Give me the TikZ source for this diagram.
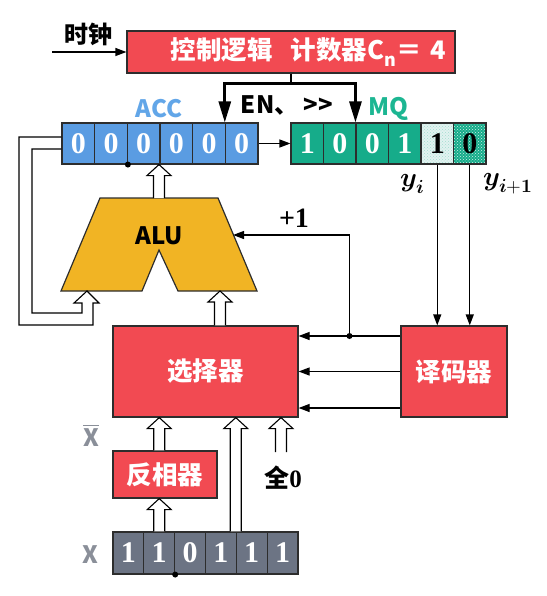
\documentclass[tikz,border=0pt]{standalone}
\usepackage{fontspec}
\usepackage{unicode-math}
\setmathfont{Latin Modern Math}
\newfontfamily\cjk{Noto Sans CJK SC}
\newfontfamily\numfont{Liberation Serif}
\usetikzlibrary{arrows.meta,calc,patterns}
\definecolor{boxred}{RGB}{242,74,82}
\definecolor{accblue}{RGB}{90,156,226}
\definecolor{acclab}{RGB}{98,166,232}
\definecolor{mqteal}{RGB}{22,172,138}
\definecolor{mqpale}{RGB}{226,242,240}
\definecolor{mqlab}{RGB}{28,182,146}
\definecolor{aluorange}{RGB}{241,180,36}
\definecolor{xgrey}{RGB}{108,116,132}
\definecolor{labgrey}{RGB}{138,143,153}
\definecolor{framec}{RGB}{45,45,45}
% hollow bus arrow pointing up: x taken from #1, tip at y of #2
\newcommand{\fatup}[2]{%
  \draw[fat] let \p1=(#1), \p2=(#2) in
    (\x1-5.5pt,\y1) -- (\x1-5.5pt,\y2-11pt) -- (\x1-12pt,\y2-11pt) -- (\x1,\y2)
    -- (\x1+12pt,\y2-11pt) -- (\x1+5.5pt,\y2-11pt) -- (\x1+5.5pt,\y1);}

\begin{document}
\begin{tikzpicture}[x=1pt,y=-1pt,line join=miter,
    sig/.style={draw=black,line width=1.2pt,-{Triangle[length=11pt,width=8pt]}},
    bus/.style={draw=black,line width=2.8pt,-{Triangle[length=21pt,width=12pt]}},
    fat/.style={draw=black,line width=1.1pt,fill=white},
    thin/.style={draw=black,line width=1.1pt},
    redbox/.style={draw=framec,line width=1.2pt,fill=boxred,text=white,inner sep=0pt,
      font=\cjk\bfseries\fontsize{25.5pt}{26pt}\selectfont},
    regcell/.style={draw=framec,line width=1.1pt,minimum height=41pt,inner sep=0pt,text=white,
      font=\numfont\bfseries\fontsize{30pt}{30pt}\selectfont},
    lab/.style={inner sep=0pt,font=\cjk\bfseries\fontsize{24pt}{24pt}\selectfont},
    mathlab/.style={inner sep=0pt,font=\fontsize{27pt}{27pt}\selectfont}]
  \useasboundingbox (0,0) rectangle (546,596);

  % control logic
  \node[redbox,minimum height=42pt,text width=310pt,align=right,inner xsep=9pt] (ctrl) at (291,52)
    {控制逻辑\hspace{18pt}计数器C\textsubscript{n}＝ 4};
  \node[lab] (clock) at (88,34) {时钟};
  \coordinate (clk) at (52,52);
  \draw[sig] (clk) -- (clk -| ctrl.west);

  % registers
  \foreach \i in {1,...,6}
    \node[regcell,fill=accblue,minimum width=32.67pt] (acc\i) at ({62+(\i-0.5)*32.67},143.5) {0};
  \foreach \d [count=\i] in {1,0,0,1}
    \node[regcell,fill=mqteal,minimum width=32.5pt] (mq\i) at ({291+(\i-0.5)*32.5},143.5) {\d};
  \node[regcell,minimum width=32.5pt,text=black,preaction={fill=mqpale},
    pattern=crosshatch dots,pattern color=mqteal!40] (mq5) at ({291+4.5*32.5},143.5) {1};
  \node[regcell,minimum width=32.5pt,text=black,preaction={fill=mqteal},
    pattern=crosshatch dots,pattern color=white!80!mqteal] (mq6) at ({291+5.5*32.5},143.5) {0};
  \foreach \d [count=\i] in {1,1,0,1,1,1}
    \node[regcell,fill=xgrey,minimum width=30.83pt,minimum height=42pt] (x\i) at ({113+(\i-0.5)*30.83},553) {\d};

  \node[lab,text=acclab] (acclabel) at (159,109) {ACC};
  \node[lab,text=mqlab] (mqlabel) at (388,109) {MQ};
  \node[lab] (enlabel) at (287,105) {EN、 >>};
  \node[lab,text=labgrey] (xlabel) at (90,555) {X};
  \node[lab,text=labgrey] (xbarlabel) at (91,435) {$\overline{\hbox{X}}$};

  \draw[bus] (ctrl.south) -- ++(0,10) -| (acc6.north west);
  \draw[bus] (ctrl.south) -- ++(0,10) -| (mq3.north west);
  \draw[sig] (acc6.east) -- (mq1.west);
  \fill (acc2.south east) circle (3pt);
  \fill (x2.south east) circle (3pt);

  % ALU
  \draw[framec,line width=1.2pt,fill=aluorange] (100,198) -- (218,198) -- (257,291) -- (178,291)
    -- (159,250) -- (142,291) -- (61,291) -- cycle;
  \node[lab] (alu) at (159,236) {ALU};
  \coordinate (alutop) at (159,198);
  \coordinate (aluinl) at (87,291);
  \coordinate (aluinr) at (220,291);
  \coordinate (aluplus) at (233,235);

  % selector, decoder, inverter
  \node[redbox,minimum width=185pt,minimum height=91pt] (sel) at (205.5,371.5) {选择器};
  \node[redbox,minimum width=106pt,minimum height=91pt] (dec) at (454,371.5) {译码器};
  \node[redbox,minimum width=104pt,minimum height=47pt] (inv) at (165,474.5) {反相器};

  \draw[sig] (mq5.south) -- (mq5.south |- dec.north);
  \draw[sig] (mq6.south) -- (mq6.south |- dec.north);
  \node[mathlab] (yi) at (413,184) {$\symbfit{y}_{\symbfit{i}}$};
  \node[mathlab] (yii) at (508,184) {$\symbfit{y}_{\symbfit{i}\symbf{+1}}$};

  \draw[sig] ([yshift=35.5pt]dec.west) -- ([yshift=35.5pt]sel.east);
  \draw[sig] (dec.west) -- (sel.east);
  \draw[sig] ([yshift=-36.5pt]dec.west) -- ([yshift=-36.5pt]sel.east);
  \coordinate (tap) at ($([yshift=35.5pt]sel.east)!0.5!([yshift=35.5pt]dec.west)$);
  \fill (tap) circle (3pt);
  \draw[sig] (tap) |- (aluplus);
  \node[inner sep=0pt,font=\numfont\bfseries\fontsize{28pt}{28pt}\selectfont] (plusone) at (294,218) {+1};

  % feedback ACC -> ALU left input
  \draw[thin] ([yshift=6.5pt]acc1.west) -| (19,325) -| (93,303) -- (99,303) -- (aluinl)
    -- (74,303) -- (82,303) |- (32,313) |- ([yshift=-5.5pt]acc1.west);

  % bus arrows
  \fatup{alutop}{acc4.south west}
  \fatup{sel.north -| aluinr}{aluinr}
  \fatup{x2.north}{inv.south}
  \fatup{inv.north -| x2.north}{sel.south -| x2.north}
  \fatup{x5.north west}{sel.south}
  \coordinate (zin) at (281,452);
  \fatup{zin}{sel.south}
  \node[inner sep=0pt] (zero) at (283,478)
    {\cjk\bfseries\fontsize{25pt}{25pt}\selectfont 全\numfont\bfseries 0};
\end{tikzpicture}
\end{document}
